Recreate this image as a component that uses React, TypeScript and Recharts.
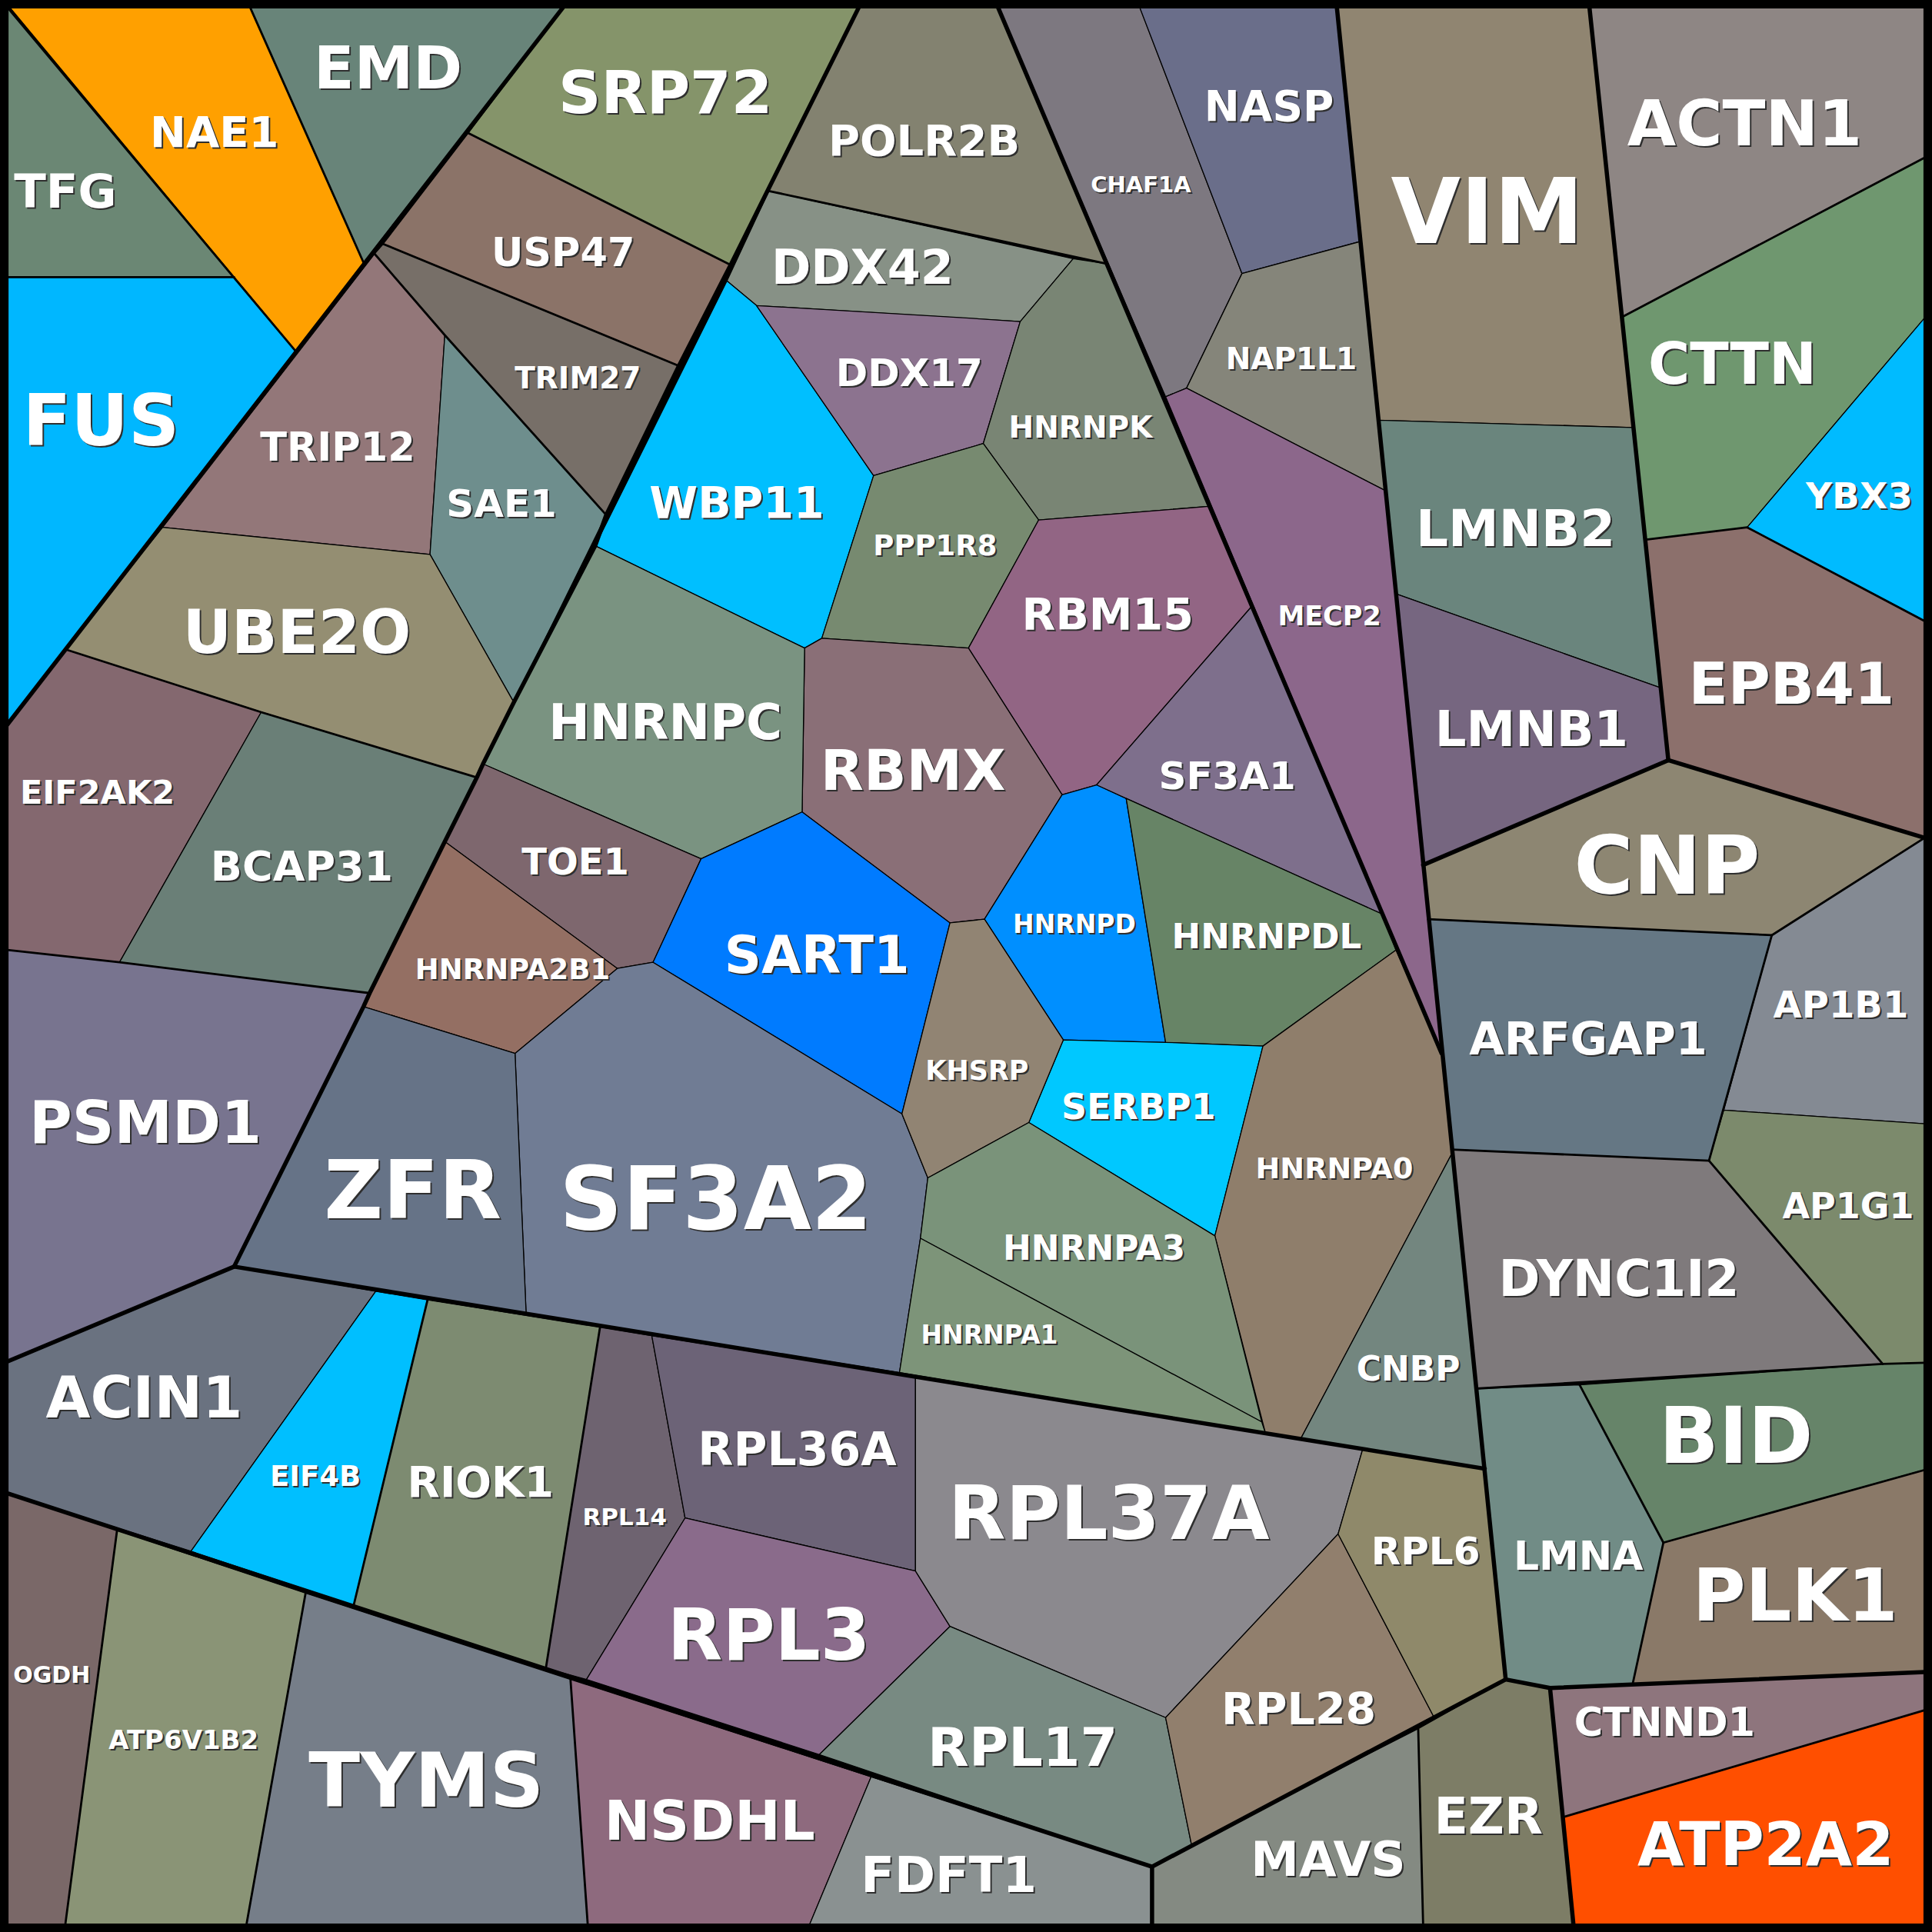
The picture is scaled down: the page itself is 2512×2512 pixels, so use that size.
import React from "react";
import { ScatterChart, Scatter, XAxis, YAxis } from "recharts";

// cell outlines in a 1568-wide space
const SIZE = 2512;
const SPAN = 1568;

const names = [
  "TFG", "NAE1", "EMD", "FUS",
  "SRP72", "USP47", "TRIM27", "TRIP12", "SAE1", "UBE2O", "EIF2AK2", "BCAP31", "PSMD1",
  "POLR2B", "DDX42", "WBP11", "DDX17", "HNRNPK", "PPP1R8", "RBM15", "RBMX", "HNRNPC", "TOE1",
  "HNRNPA2B1", "SART1", "SF3A2", "ZFR", "HNRNPD", "SF3A1", "HNRNPDL", "SERBP1", "KHSRP",
  "HNRNPA0", "CNBP", "HNRNPA3", "HNRNPA1",
  "CHAF1A", "NASP", "NAP1L1", "MECP2",
  "VIM", "LMNB2", "LMNB1", "CNP", "ARFGAP1", "AP1B1", "AP1G1", "DYNC1I2", "BID", "LMNA", "PLK1",
  "CTNND1", "ATP2A2", "EZR", "MAVS", "ACTN1", "CTTN", "YBX3", "EPB41",
  "ACIN1", "EIF4B", "RIOK1", "RPL14", "RPL36A", "RPL3", "RPL37A", "RPL17", "RPL28", "RPL6",
  "OGDH", "ATP6V1B2", "TYMS", "NSDHL", "FDFT1",
];

const fills = [
  "#6b8774", "#ffa000", "#688479", "#00b7ff",
  "#85946a", "#8b7368", "#776f68", "#937779", "#6e8e8d", "#948e72", "#84686f", "#6a7f77", "#78748f",
  "#838270", "#879186", "#00bfff", "#8c738f", "#798574", "#778a70", "#926584", "#8a6f77", "#7a9381", "#7e676e",
  "#946f63", "#007bff", "#707c94", "#667387", "#008fff", "#7e6f8c", "#678466", "#00c8ff", "#918473",
  "#8f7e6b", "#73867f", "#7a937a", "#7d9479",
  "#7d7880", "#6a6e8a", "#85857a", "#8c678b",
  "#908571", "#6a857d", "#766680", "#8d8672", "#657784", "#848a93", "#7c8a6c", "#7f7a7c", "#668469", "#718c86", "#8a7968",
  "#8e757d", "#ff4f00", "#7d7d66", "#848a82", "#8e8684", "#6f976f", "#00bbff", "#8c706c",
  "#6a7280", "#00bfff", "#7d8b71", "#6e6370", "#6c6377", "#8a6b8b", "#8b898e", "#788a82", "#917f6d", "#8f896a",
  "#7a6868", "#8a9476", "#767e89", "#8e6a7e", "#8a9191",
];

const outlines: number[][][] = [
  [[6, 6], [190, 225], [6, 225]],
  [[8, 6], [203, 6], [295, 213], [240, 285], [190, 225]],
  [[203, 6], [457, 6], [295, 213]],
  [[6, 225], [190, 225], [240, 285], [6, 588]],
  [[457, 6], [697, 6], [593, 215], [380, 108]],
  [[380, 108], [593, 215], [551, 297], [311, 198]],
  [[311, 198], [551, 297], [492, 418], [361, 272], [304, 206]],
  [[304, 206], [361, 272], [349, 450], [132, 428]],
  [[361, 272], [492, 418], [417, 570], [349, 450]],
  [[132, 428], [349, 450], [417, 570], [387, 631], [212, 578], [53, 527]],
  [[53, 527], [212, 578], [97, 781], [6, 771], [6, 588]],
  [[212, 578], [387, 631], [300, 806], [97, 781]],
  [[6, 771], [97, 781], [300, 806], [190, 1028], [6, 1105]],
  [[697, 6], [810, 6], [898, 214], [624, 155]],
  [[624, 155], [871, 210], [828, 261], [614, 248], [590, 228]],
  [[590, 228], [614, 248], [709, 386], [667, 518], [653, 526], [483, 443]],
  [[614, 248], [784, 258], [828, 261], [798, 360], [709, 386]],
  [[871, 210], [898, 214], [981, 411], [843, 422], [798, 360], [828, 261]],
  [[709, 386], [798, 360], [843, 422], [786, 526], [667, 518]],
  [[843, 422], [981, 411], [1016, 492], [890, 637], [862, 645], [786, 526]],
  [[653, 526], [667, 518], [786, 526], [862, 645], [799, 746], [771, 749], [651, 659]],
  [[483, 443], [653, 526], [651, 659], [569, 697], [392, 620]],
  [[392, 620], [569, 697], [530, 781], [501, 786], [361, 683]],
  [[361, 683], [501, 786], [418, 855], [295, 817]],
  [[651, 659], [771, 749], [732, 904], [530, 781], [569, 697]],
  [[530, 781], [732, 904], [753, 956], [747, 1005], [730, 1114], [427, 1066], [418, 855], [501, 786]],
  [[295, 817], [418, 855], [427, 1066], [190, 1028]],
  [[862, 645], [890, 637], [914, 648], [946, 846], [863, 844], [799, 746]],
  [[890, 637], [1016, 492], [1122, 742], [914, 648]],
  [[914, 648], [1122, 742], [1133, 771], [1025, 849], [946, 846]],
  [[863, 844], [946, 846], [1025, 849], [986, 1003], [835, 911]],
  [[799, 746], [863, 844], [835, 911], [753, 956], [732, 904], [771, 749]],
  [[1025, 849], [1133, 771], [1170, 855], [1179, 935], [1056, 1167], [1027, 1163], [986, 1003]],
  [[1179, 935], [1205, 1192], [1056, 1167]],
  [[753, 956], [835, 911], [986, 1003], [1024, 1154], [747, 1005]],
  [[747, 1005], [1024, 1154], [1027, 1163], [730, 1114]],
  [[810, 6], [925, 6], [1008, 222], [963, 315], [946, 322]],
  [[925, 6], [1085, 6], [1104, 196], [1008, 222]],
  [[1008, 222], [1104, 196], [1124, 398], [963, 315]],
  [[946, 322], [963, 315], [1124, 398], [1170, 855]],
  [[1085, 6], [1290, 6], [1325, 347], [1119, 341]],
  [[1119, 341], [1325, 347], [1347, 558], [1133, 482]],
  [[1133, 482], [1347, 558], [1354, 617], [1155, 702]],
  [[1155, 702], [1354, 617], [1562, 680], [1438, 759], [1159, 746]],
  [[1159, 746], [1438, 759], [1387, 942], [1178, 933]],
  [[1438, 759], [1562, 680], [1562, 912], [1399, 901]],
  [[1399, 901], [1562, 912], [1562, 1106], [1528, 1107], [1387, 942]],
  [[1178, 933], [1387, 942], [1528, 1107], [1198, 1127]],
  [[1282, 1124], [1528, 1107], [1562, 1106], [1562, 1193], [1350, 1252]],
  [[1198, 1127], [1282, 1124], [1350, 1252], [1325, 1367], [1258, 1370], [1222, 1363]],
  [[1350, 1252], [1562, 1193], [1562, 1357], [1325, 1367]],
  [[1258, 1370], [1325, 1367], [1562, 1357], [1562, 1388], [1268, 1475]],
  [[1268, 1475], [1562, 1388], [1562, 1562], [1277, 1562]],
  [[1222, 1363], [1258, 1370], [1277, 1562], [1155, 1562], [1151, 1403]],
  [[935, 1515], [967, 1497], [1151, 1403], [1155, 1562], [935, 1562]],
  [[1290, 6], [1562, 6], [1562, 128], [1317, 257]],
  [[1317, 257], [1562, 128], [1562, 258], [1418, 428], [1336, 438]],
  [[1562, 258], [1562, 504], [1418, 428]],
  [[1336, 438], [1418, 428], [1562, 504], [1562, 680], [1354, 617]],
  [[6, 1105], [190, 1028], [305, 1048], [155, 1259], [6, 1212]],
  [[305, 1048], [347, 1055], [287, 1303], [155, 1259]],
  [[347, 1055], [487, 1077], [443, 1354], [287, 1303]],
  [[487, 1077], [529, 1084], [556, 1232], [476, 1363], [443, 1354]],
  [[529, 1084], [743, 1118], [743, 1275], [556, 1232]],
  [[556, 1232], [743, 1275], [771, 1320], [665, 1424], [476, 1363]],
  [[743, 1118], [1027, 1163], [1056, 1167], [1106, 1176], [1086, 1245], [946, 1394], [771, 1320], [743, 1275]],
  [[771, 1320], [946, 1394], [967, 1497], [935, 1515], [665, 1424]],
  [[946, 1394], [1086, 1245], [1164, 1394], [967, 1497]],
  [[1106, 1176], [1205, 1192], [1222, 1363], [1164, 1394], [1086, 1245]],
  [[6, 1212], [95, 1242], [53, 1562], [6, 1562]],
  [[95, 1242], [248, 1293], [200, 1562], [53, 1562]],
  [[248, 1293], [463, 1363], [477, 1562], [200, 1562]],
  [[463, 1363], [707, 1442], [657, 1562], [477, 1562]],
  [[707, 1442], [935, 1515], [935, 1562], [657, 1562]],
];

const labelPos = [
  [53, 155], [174, 107], [315, 55], [82, 342],
  [540, 75], [457, 205], [469, 307], [274, 363], [407, 409], [241, 513], [79, 643], [245, 703], [118, 911],
  [750, 114], [700, 217], [598, 408], [738, 303], [877, 347], [759, 443], [899, 499], [741, 625], [540, 586], [467, 699],
  [416, 787], [663, 775], [581, 973], [335, 966], [872, 750], [996, 630], [1028, 760], [924, 898], [793, 869],
  [1083, 948], [1143, 1111], [888, 1013], [803, 1083],
  [926, 150], [1030, 86], [1048, 291], [1079, 500],
  [1207, 172], [1230, 429], [1243, 592], [1353, 703], [1289, 843], [1494, 815], [1500, 979], [1314, 1038], [1409, 1165], [1281, 1263], [1457, 1295],
  [1351, 1398], [1433, 1497], [1208, 1474], [1078, 1509], [1416, 100], [1406, 295], [1509, 402], [1454, 555],
  [117, 1134], [256, 1198], [390, 1203], [507, 1231], [647, 1176], [624, 1327], [900, 1228], [830, 1418], [1054, 1387], [1157, 1259],
  [42, 1359], [149, 1412], [346, 1445], [576, 1478], [770, 1522],
];

const labelSize = [
  61, 56, 77, 92,
  77, 51, 39, 51, 50, 78, 43, 54, 76,
  56, 62, 57, 50, 39, 37, 57, 73, 64, 48,
  37, 67, 114, 106, 33, 50, 45, 46, 35,
  38, 44, 44, 33,
  29, 55, 39, 35,
  117, 66, 64, 105, 59, 48, 46, 65, 102, 52, 94,
  51, 78, 65, 63, 82, 74, 47, 75,
  75, 37, 55, 31, 60, 93, 97, 70, 57, 50,
  30, 34, 98, 71, 64,
];

// seams between groups of cells
const thickSeams: number[][][] = [
  [[6, 588], [457, 6]],
  [[697, 6], [593, 215], [551, 297], [492, 418], [483, 443], [417, 570], [392, 620], [387, 631], [361, 683], [300, 806], [295, 817], [190, 1028]],
  [[6, 1105], [190, 1028], [1205, 1192]],
  [[6, 1212], [935, 1515], [1222, 1363], [1258, 1370], [1562, 1357]],
  [[935, 1515], [935, 1562]],
  [[810, 6], [1170, 855]],
  [[1085, 6], [1222, 1363]],
  [[1290, 6], [1354, 617]],
  [[1155, 702], [1354, 617], [1562, 680]],
  [[1258, 1370], [1277, 1562]],
];

const mediumSeams: number[][][] = [
  [[6, 6], [240, 285]],
  [[203, 6], [295, 213]],
  [[6, 225], [190, 225]],
  [[380, 108], [593, 215]],
  [[311, 198], [551, 297]],
  [[304, 206], [361, 272], [492, 418]],
  [[53, 527], [212, 578], [387, 631]],
  [[6, 771], [97, 781], [300, 806]],
  [[624, 155], [898, 214]],
  [[347, 1055], [287, 1303]],
  [[487, 1077], [443, 1354]],
  [[95, 1242], [53, 1562]],
  [[248, 1293], [200, 1562]],
  [[463, 1363], [477, 1562]],
  [[1151, 1403], [1155, 1562]],
  [[1198, 1127], [1528, 1107], [1562, 1106]],
  [[1282, 1124], [1350, 1252], [1325, 1367]],
  [[1350, 1252], [1562, 1193]],
  [[1268, 1475], [1562, 1388]],
  [[1159, 746], [1438, 759], [1387, 942], [1178, 933]],
  [[1438, 759], [1562, 680]],
  [[1387, 942], [1528, 1107]],
  [[1317, 257], [1562, 128]],
  [[1336, 438], [1418, 428], [1562, 504]],
];

const frame = [[3.5, 3.5], [1564.5, 3.5], [1564.5, 1564.5], [3.5, 1564.5]];

const toPts = (pts: number[][]) => pts.map(([x, y]) => ({ x, y }));

const pathOf = (points: { x: number; y: number }[], close: boolean) =>
  points.map((p, i) => `${i ? "L" : "M"}${p.x},${p.y}`).join(" ") + (close ? " Z" : "");

const NoDot = () => <g />;

const labels = names.map((name, i) => ({
  x: labelPos[i][0],
  y: labelPos[i][1],
  name,
  size: labelSize[i],
}));

function CellLabel(props: any) {
  const { cx, cy, payload } = props;
  const common = {
    textAnchor: "middle" as const,
    dominantBaseline: "central" as const,
    fontFamily: "'DejaVu Sans', sans-serif",
    fontWeight: 700,
    fontSize: payload.size,
  };
  return (
    <g>
      <text x={cx + 2} y={cy + 2} fill="#2f2f2f" {...common}>{payload.name}</text>
      <text x={cx} y={cy} fill="#ffffff" {...common}>{payload.name}</text>
    </g>
  );
}

export default function App() {
  return (
    <div style={{ position: "absolute", left: 0, top: 0, width: SIZE, height: SIZE, background: "#000" }}>
      <ScatterChart width={SIZE} height={SIZE} margin={{ top: 0, right: 0, bottom: 0, left: 0 }}>
        <XAxis type="number" dataKey="x" domain={[0, SPAN]} hide allowDataOverflow />
        <YAxis type="number" dataKey="y" domain={[0, SPAN]} reversed hide allowDataOverflow />

        {outlines.map((pts, i) => (
          <Scatter
            key={names[i]}
            data={toPts(pts)}
            shape={NoDot}
            lineType="joint"
            isAnimationActive={false}
            line={(p: any) => (
              <path d={pathOf(p.points, true)} fill={fills[i]} stroke="#000" strokeWidth={1.3} strokeLinejoin="round" />
            )}
          />
        ))}

        {mediumSeams.map((pts, i) => (
          <Scatter
            key={`m${i}`}
            data={toPts(pts)}
            shape={NoDot}
            lineType="joint"
            isAnimationActive={false}
            line={(p: any) => (
              <path d={pathOf(p.points, false)} fill="none" stroke="#000" strokeWidth={2.8} strokeLinecap="round" strokeLinejoin="round" />
            )}
          />
        ))}

        {thickSeams.map((pts, i) => (
          <Scatter
            key={`t${i}`}
            data={toPts(pts)}
            shape={NoDot}
            lineType="joint"
            isAnimationActive={false}
            line={(p: any) => (
              <path d={pathOf(p.points, false)} fill="none" stroke="#000" strokeWidth={5.5} strokeLinecap="round" strokeLinejoin="round" />
            )}
          />
        ))}

        <Scatter
          data={toPts(frame)}
          shape={NoDot}
          lineType="joint"
          isAnimationActive={false}
          line={(p: any) => (
            <path d={pathOf(p.points, true)} fill="none" stroke="#000" strokeWidth={11} />
          )}
        />

        <Scatter data={labels} shape={CellLabel} isAnimationActive={false} />
      </ScatterChart>
    </div>
  );
}
